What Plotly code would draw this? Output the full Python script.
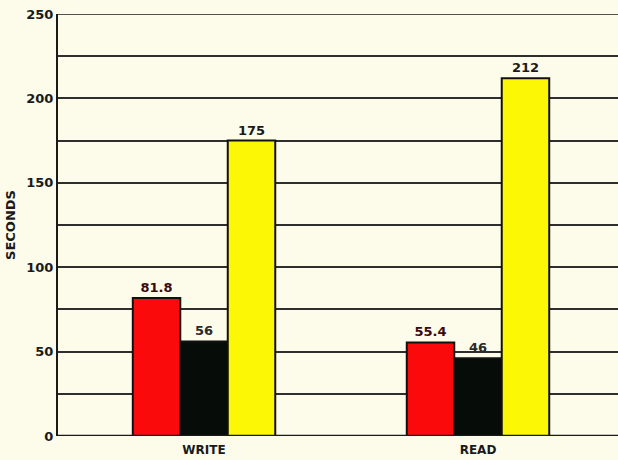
import plotly.graph_objects as go

categories = ["WRITE", "READ"]
red_vals = [81.8, 55.4]
black_vals = [56, 46]
yellow_vals = [175, 212]
red_labels = ["81.8", "55.4"]
black_labels = ["56", "46"]
yellow_labels = ["175", "212"]
y_ticks = [0, 50, 100, 150, 200, 250]

bg = "#fdfbea"
font = "DejaVu Sans"

fig = go.Figure()
for vals, labels, color, tcolor in [
    (red_vals, red_labels, "#fa0a0a", "#3a0a10"),
    (black_vals, black_labels, "#060c08", "#2a2a2a"),
    (yellow_vals, yellow_labels, "#fcf805", "#1a1a1a"),
]:
    fig.add_trace(go.Bar(
        x=categories, y=vals, text=labels, textposition="outside",
        textfont=dict(family=font, size=13, color=tcolor, weight="bold"),
        marker=dict(color=color, line=dict(color="#111111", width=2)),
        cliponaxis=False, showlegend=False,
    ))

fig.update_layout(
    width=618, height=460,
    margin=dict(l=58, r=0, t=14, b=24),
    paper_bgcolor=bg, plot_bgcolor=bg,
    barmode="group", bargap=0.48, bargroupgap=0,
    xaxis=dict(
        range=[-0.533, 1.511], showgrid=False, showline=False, zeroline=False,
        ticks="", ticklabelstandoff=5,
        tickfont=dict(family=font, size=12, color="#1a1a1a", weight="bold"),
    ),
    yaxis=dict(
        range=[0, 250], tickvals=y_ticks, ticktext=[str(v) for v in y_ticks],
        showgrid=True, gridcolor="#2e2e2e", gridwidth=1.5,
        minor=dict(dtick=25, showgrid=True, gridcolor="#2e2e2e", gridwidth=1.5),
        showline=True, linecolor="#1a1a1a", linewidth=2, mirror=False,
        zeroline=False, ticks="", ticklen=0,
        tickfont=dict(family=font, size=13, color="#1a1a1a", weight="bold"),
        title=dict(text="SECONDS", font=dict(family=font, size=13, color="#1a1a1a", weight="bold"), standoff=8),
    ),
)
fig.add_shape(type="line", xref="paper", yref="y", x0=0, x1=1, y0=0, y1=0,
              line=dict(color="#1a1a1a", width=2.5))
fig.add_shape(type="line", xref="paper", yref="y", x0=0, x1=1, y0=250, y1=250,
              line=dict(color="#1a1a1a", width=1.5))

fig.write_html(
    "out.html",
    config={"displayModeBar": False},
    post_script="document.body.style.margin='0';document.body.style.background='%s';" % bg,
)
